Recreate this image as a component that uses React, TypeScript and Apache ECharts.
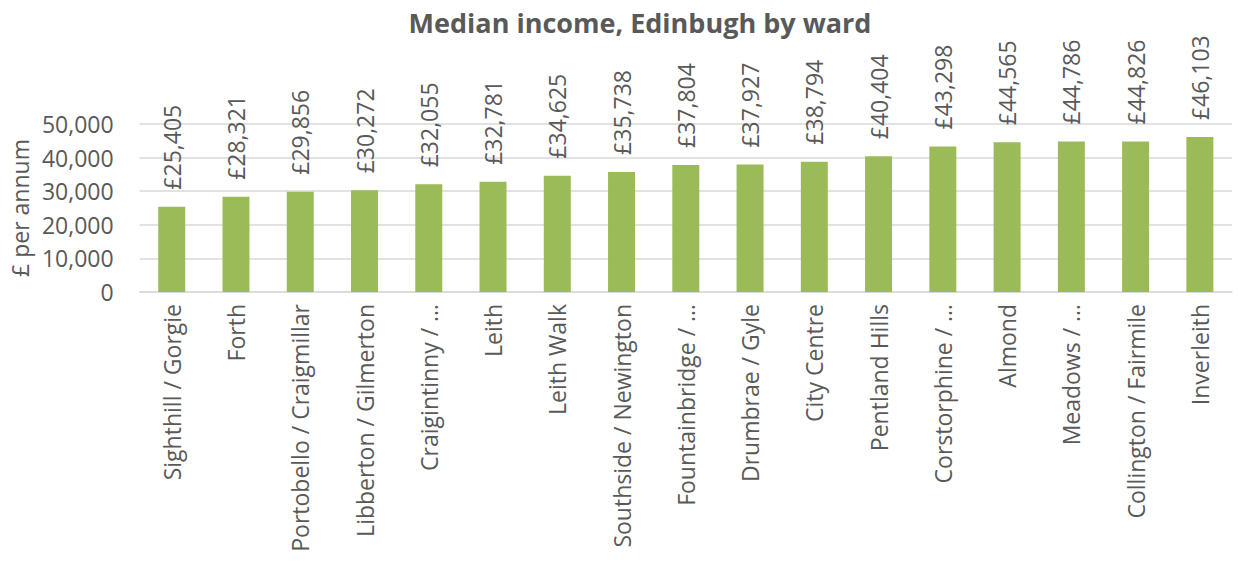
import React, { useEffect, useRef } from "react";
import * as echarts from "echarts";

const wards = [
  "Sighthill / Gorgie",
  "Forth",
  "Portobello / Craigmillar",
  "Libberton / Gilmerton",
  "Craigintinny / …",
  "Leith",
  "Leith Walk",
  "Southside / Newington",
  "Fountainbridge / …",
  "Drumbrae / Gyle",
  "City Centre",
  "Pentland Hills",
  "Corstorphine / …",
  "Almond",
  "Meadows / …",
  "Collington / Fairmile",
  "Inverleith",
];
const medianIncome = [
  25405, 28321, 29856, 30272, 32055, 32781, 34625, 35738, 37804, 37927, 38794,
  40404, 43298, 44565, 44786, 44826, 46103,
];
const yTicks = { min: 0, max: 50000, interval: 10000 };

const FONT = "'Open Sans', sans-serif";
const GREY = "#595959";

export default function App() {
  const ref = useRef<HTMLDivElement>(null);
  useEffect(() => {
    if (!ref.current) return;
    const chart = echarts.init(ref.current, null, { renderer: "svg" });
    chart.setOption({
      animation: false,
      backgroundColor: "#ffffff",
      graphic: [
        {
          type: "text",
          x: 640,
          y: 22,
          style: {
            text: "Median income, Edinbugh by ward",
            textAlign: "center",
            textVerticalAlign: "middle",
            fontFamily: FONT,
            fontSize: 27,
            fontWeight: "bold",
            fill: GREY,
          },
        },
      ],
      grid: { left: 137, right: 6, top: 124, bottom: 272, containLabel: false },
      xAxis: {
        type: "category",
        data: wards,
        axisLine: { show: true, lineStyle: { color: "#d9d9d9", width: 1.5 } },
        axisTick: { show: false },
        axisLabel: {
          rotate: 90,
          interval: 0,
          color: GREY,
          fontFamily: FONT,
          fontSize: 23,
          margin: 12,
        },
      },
      yAxis: {
        type: "value",
        min: yTicks.min,
        max: yTicks.max,
        interval: yTicks.interval,
        name: "£ per annum",
        nameLocation: "middle",
        nameGap: 106,
        nameTextStyle: { color: GREY, fontFamily: FONT, fontSize: 23 },
        axisLine: { show: false },
        axisTick: { show: false },
        splitLine: { lineStyle: { color: "#d9d9d9", width: 1.5 } },
        axisLabel: {
          color: GREY,
          fontFamily: FONT,
          fontSize: 23,
          margin: 26,
          formatter: (v: number) => v.toLocaleString("en-GB"),
        },
      },
      series: [
        {
          type: "bar",
          data: medianIncome,
          barWidth: "42%",
          itemStyle: { color: "#9bbb59" },
          label: {
            show: true,
            position: "top",
            rotate: 90,
            align: "left",
            verticalAlign: "middle",
            distance: 17,
            color: GREY,
            fontFamily: FONT,
            fontSize: 23,
            formatter: (p: any) => "£" + Number(p.value).toLocaleString("en-GB"),
          },
        },
      ],
    });
    return () => chart.dispose();
  }, []);
  return (
    <div
      ref={ref}
      style={{ position: "fixed", left: 0, top: 0, width: 1238, height: 564 }}
    />
  );
}
